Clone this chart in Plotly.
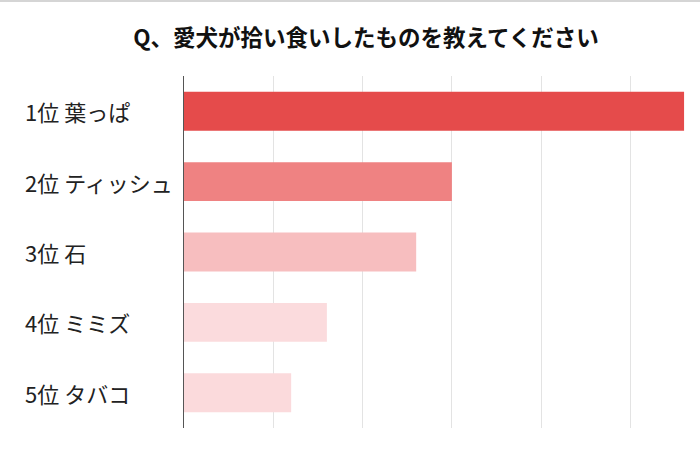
import plotly.graph_objects as go

title = "Q、愛犬が拾い食いしたものを教えてください"
categories = ["1位 葉っぱ", "2位 ティッシュ", "3位 石", "4位 ミミズ", "5位 タバコ"]
values = [56, 30, 26, 16, 12]
colors = ["#E54B4B", "#EF8282", "#F7BEBF", "#FBDBDD", "#FBDADC"]

W, H = 700, 449
L, R, T, B = 184, 7, 76, 21
PW = W - L - R
PH = H - T - B

fig = go.Figure()
fig.add_trace(go.Bar(
    x=values, y=categories, orientation="h",
    marker=dict(color=colors, line=dict(width=0)),
    hoverinfo="skip",
))

for c in categories:
    fig.add_annotation(
        x=(23 - L) / PW, xref="paper", y=c, yref="y",
        text=c, showarrow=False, xanchor="left", yanchor="middle",
        font=dict(family="Noto Sans CJK JP", size=22, color="#222222"),
    )

fig.update_layout(
    width=W, height=H,
    margin=dict(l=L, r=R, t=T, b=B),
    paper_bgcolor="white", plot_bgcolor="white",
    bargap=0.447,
    showlegend=False,
    title=dict(
        text=title, x=366 / W, xanchor="center", y=1 - 38 / H, yanchor="middle",
        font=dict(family="Noto Sans CJK JP", size=22.5, color="#111111", weight="bold"),
    ),
    xaxis=dict(
        range=[0, 57], dtick=10, showticklabels=False, showgrid=True,
        gridcolor="#E3E3E3", gridwidth=1, zeroline=False, showline=False,
    ),
    yaxis=dict(
        autorange="reversed", showticklabels=False, showgrid=False,
        showline=True, linecolor="#555555", linewidth=1, ticks="",
    ),
    shapes=[dict(type="line", xref="paper", yref="paper", x0=-L / PW, x1=1 + R / PW,
                 y0=1 + (T - 1) / PH, y1=1 + (T - 1) / PH,
                 line=dict(color="#D5D5D5", width=2))],
)

fig.write_html("out.html")
